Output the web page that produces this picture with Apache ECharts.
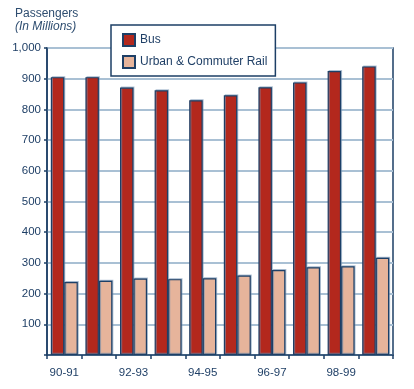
<!DOCTYPE html>
<html><head><meta charset="utf-8">
<script src="https://cdn.jsdelivr.net/npm/echarts@6/dist/echarts.min.js"></script>
<style>html,body{margin:0;padding:0;background:#fff}#c{width:414px;height:389px}</style>
</head><body><div id="c"></div>
<script>
var categories = ['90-91','91-92','92-93','93-94','94-95','95-96','96-97','97-98','98-99','99-00'];
var busValues = [905, 905, 871, 862, 830, 846, 872, 888, 925, 940];
var railValues = [238, 242, 249, 247, 250, 259, 277, 286, 289, 317];
var seriesNames = ['Bus', 'Urban & Commuter Rail'];
var yTicks = [0, 100, 200, 300, 400, 500, 600, 700, 800, 900, 1000];

var navy = '#1d3f66';
var chart = echarts.init(document.getElementById('c'));
var barStyle = function(color){
  return {color: color, borderColor: navy, borderWidth: 1.2,
          shadowColor: 'rgba(120,150,180,0.55)', shadowOffsetX: 1, shadowOffsetY: -1, shadowBlur: 0};
};
chart.setOption({
  animation: false,
  textStyle: {fontFamily: 'Liberation Sans, Arial, sans-serif'},
  graphic: [
    {type: 'text', left: 15, top: 8, style: {text: 'Passengers', fill: '#2e4d70', font: '12px Liberation Sans'}},
    {type: 'text', left: 15, top: 21, style: {text: '(In Millions)', fill: '#2e4d70', font: 'italic 12px Liberation Sans'}}
  ],
  legend: {
    orient: 'vertical', left: 111, top: 25, icon: 'rect',
    padding: [8, 8, 7, 11], itemGap: 8, itemWidth: 12, itemHeight: 12,
    backgroundColor: '#fff', borderColor: navy, borderWidth: 1.5,
    textStyle: {color: '#1f3f66', fontSize: 12}, z: 10,
    data: seriesNames
  },
  grid: {left: 47, right: 21, top: 48, bottom: 34, show: true, borderColor: navy, borderWidth: 1.5, backgroundColor: 'transparent'},
  xAxis: {
    type: 'category', data: categories,
    axisLine: {lineStyle: {color: navy, width: 1.5}},
    axisTick: {show: true, interval: 0, length: 4, lineStyle: {color: navy, width: 1.5}},
    axisLabel: {interval: 1, color: '#1f3f66', fontSize: 11.5, margin: 12}
  },
  yAxis: {
    type: 'value', min: yTicks[0], max: yTicks[yTicks.length-1], interval: 100,
    axisLine: {show: true, lineStyle: {color: navy, width: 1.5}},
    axisTick: {show: true, length: 3, lineStyle: {color: navy, width: 1.5}},
    axisLabel: {color: '#1f3f66', fontSize: 11.5, margin: 6,
      formatter: function(v){ return v === 0 ? '' : v.toLocaleString('en-US'); }},
    splitLine: {lineStyle: {color: '#a9c0d4', width: 2}}
  },
  series: [
    {name: seriesNames[0], type: 'bar', data: busValues, barGap: '0%', barCategoryGap: '22%', itemStyle: barStyle('#b3281d')},
    {name: seriesNames[1], type: 'bar', data: railValues, barGap: '0%', barCategoryGap: '22%', itemStyle: barStyle('#e6b49b')}
  ]
});
</script></body></html>
